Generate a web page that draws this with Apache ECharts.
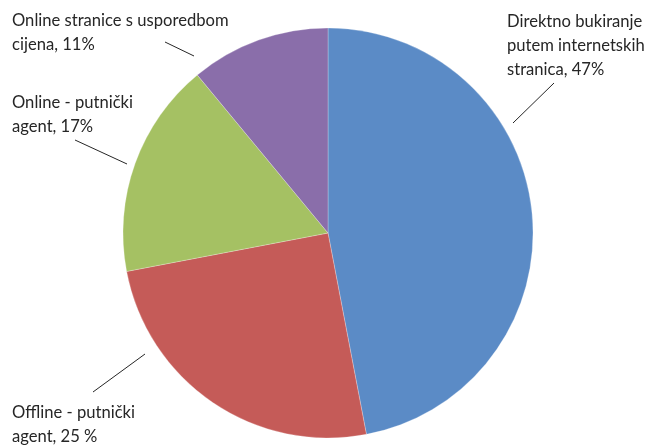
<!DOCTYPE html>
<html>
<head>
<meta charset="utf-8">
<script src="https://cdn.jsdelivr.net/npm/echarts@6/dist/echarts.min.js"></script>
<style>
  html, body { margin: 0; padding: 0; background: #ffffff; }
  #chart { width: 656px; height: 445px; }
</style>
</head>
<body>
<div id="chart"></div>
<script>
// Booking channel shares, clockwise from 12 o'clock
const categories = [
  'Direktno bukiranje\nputem internetskih\nstranica',
  'Offline - putnički\nagent',
  'Online - putnički\nagent',
  'Online stranice s usporedbom\ncijena'
];
const values = [47, 25, 17, 11];
const percentSuffix = ['%', ' %', '%', '%'];
const colors = ['#5B8BC6', '#C55B58', '#A5C163', '#8A6EAA'];

// Label placement (top-left of each text block) and leader line ends
const labelPos = [[507, 10], [12, 401], [12, 91], [12, 9]];
const leaderLines = [
  [[513, 123], [554, 83]],
  [[145, 354], [93, 392]],
  [[127, 164], [75, 140]],
  [[194, 56], [165, 42]]
];

const chart = echarts.init(document.getElementById('chart'), null, { renderer: 'canvas' });

chart.setOption({
  backgroundColor: '#ffffff',
  animation: false,
  series: [{
    type: 'pie',
    center: [328, 233],
    radius: 205,
    startAngle: 90,
    clockwise: true,
    data: categories.map((name, i) => ({
      name: name,
      value: values[i],
      itemStyle: { color: colors[i] }
    })),
    itemStyle: { borderColor: 'rgba(255,255,255,0.5)', borderWidth: 0.5 },
    label: {
      show: true,
      position: 'outside',
      alignTo: 'none',
      overflow: 'none',
      formatter: p => p.name + ', ' + p.value + percentSuffix[p.dataIndex],
      fontFamily: 'Lato',
      fontSize: 16.6,
      lineHeight: 24,
      color: '#262626',
      align: 'left'
    },
    labelLine: {
      show: true,
      lineStyle: { color: '#262626', width: 1 }
    },
    labelLayout: p => ({
      x: labelPos[p.dataIndex][0],
      y: labelPos[p.dataIndex][1],
      align: 'left',
      verticalAlign: 'top',
      labelLinePoints: leaderLines[p.dataIndex]
    }),
    emphasis: { disabled: true }
  }]
});
</script>
</body>
</html>
